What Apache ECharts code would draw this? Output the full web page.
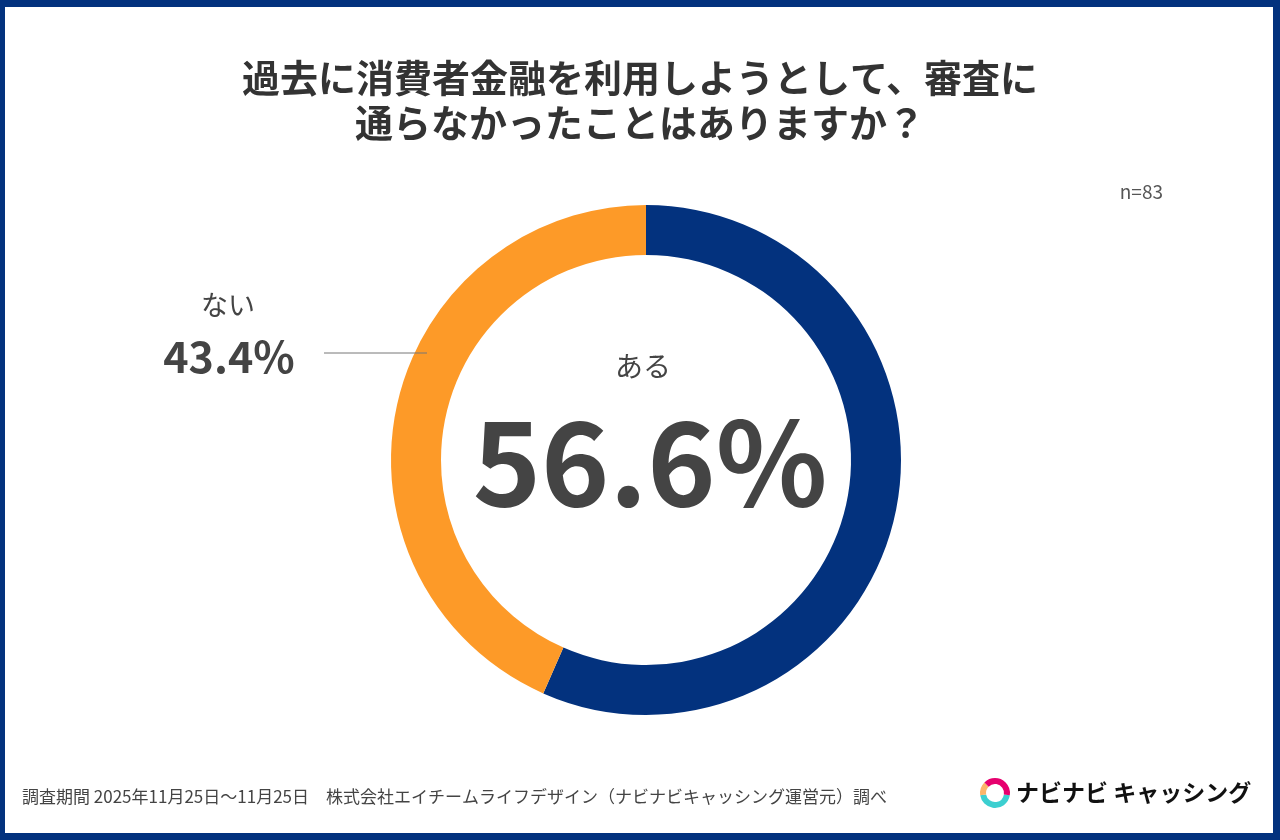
<!DOCTYPE html>
<html>
<head>
<meta charset="utf-8">
<script src="https://cdn.jsdelivr.net/npm/echarts@6/dist/echarts.min.js"></script>
<style>
  body { margin: 0; }
  #chart { width: 1280px; height: 840px; }
</style>
</head>
<body>
<div id="chart"></div>
<script>
// データ
const titleLines = ["過去に消費者金融を利用しようとして、審査に", "通らなかったことはありますか？"]
const categories = ["ある", "ない"]
const values = [56.6, 43.4]
const colors = ["#03327E", "#FD9A28"]
const sampleSize = "n=83"
const footnote = "調査期間 2025年11月25日〜11月25日　株式会社エイチームライフデザイン（ナビナビキャッシング運営元）調べ"
const brand = "ナビナビ キャッシング"

const font = "'Noto Sans CJK JP', 'Noto Sans', sans-serif"
const textColor = "#444444"

const chart = echarts.init(document.getElementById("chart"))

const option = {
  backgroundColor: "#03327E",
  animation: false,
  graphic: [
    // 白い背景
    { type: "rect", z: -10, shape: { x: 5, y: 7, width: 1268, height: 826 }, style: { fill: "#ffffff" } },
    // タイトル
    {
      type: "text", x: 640, y: 78,
      style: {
        text: titleLines[0], fill: "#333333", font: "bold 38px " + font,
        align: "center", verticalAlign: "middle"
      }
    },
    {
      type: "text", x: 640, y: 123,
      style: {
        text: titleLines[1], fill: "#333333", font: "bold 38px " + font,
        align: "center", verticalAlign: "middle"
      }
    },
    {
      type: "text", x: 1163, y: 192,
      style: { text: sampleSize, fill: "#555555", font: "19px " + font, align: "right", verticalAlign: "middle" }
    },
    // 中央ラベル（ある）
    {
      type: "text", x: 643, y: 366,
      style: { text: categories[0], fill: textColor, font: "28px " + font, align: "center", verticalAlign: "middle" }
    },
    {
      type: "text", x: 650, y: 462,
      style: { text: values[0].toFixed(1) + "%", fill: textColor, font: "bold 116px " + font, align: "center", verticalAlign: "middle" }
    },
    // 左ラベル（ない）
    {
      type: "text", x: 228, y: 305,
      style: { text: categories[1], fill: textColor, font: "27px " + font, align: "center", verticalAlign: "middle" }
    },
    {
      type: "text", x: 229, y: 357,
      style: { text: values[1].toFixed(1) + "%", fill: textColor, font: "bold 43px " + font, align: "center", verticalAlign: "middle" }
    },
    {
      type: "line", z: 10, shape: { x1: 324, y1: 353, x2: 427, y2: 353 },
      style: { stroke: "#777777", lineWidth: 1 }
    },
    // 脚注
    {
      type: "text", x: 22, y: 797,
      style: { text: footnote, fill: textColor, font: "17px " + font, verticalAlign: "middle" }
    },
    // ロゴ
    { type: "sector", shape: { cx: 995, cy: 793, r: 15, r0: 9, startAngle: Math.PI * 0.05, endAngle: Math.PI * 0.95 }, style: { fill: "#3CCFD0" } },
    { type: "sector", shape: { cx: 995, cy: 793, r: 15, r0: 9, startAngle: Math.PI * 0.95, endAngle: Math.PI * 1.25 }, style: { fill: "#FBB56A" } },
    { type: "sector", shape: { cx: 995, cy: 793, r: 15, r0: 9, startAngle: Math.PI * 1.25, endAngle: Math.PI * 2.05 }, style: { fill: "#E6006E" } },
    {
      type: "text", x: 1016, y: 792,
      style: { text: brand, fill: "#111111", font: "bold 23px " + font, verticalAlign: "middle" }
    }
  ],
  series: [
    {
      type: "pie",
      center: [646, 460],
      radius: [205, 255],
      startAngle: 90,
      clockwise: true,
      silent: true,
      label: { show: false },
      labelLine: { show: false },
      data: categories.map((name, i) => ({
        name: name,
        value: values[i],
        itemStyle: { color: colors[i] }
      }))
    }
  ]
}

chart.setOption(option)
</script>
</body>
</html>
